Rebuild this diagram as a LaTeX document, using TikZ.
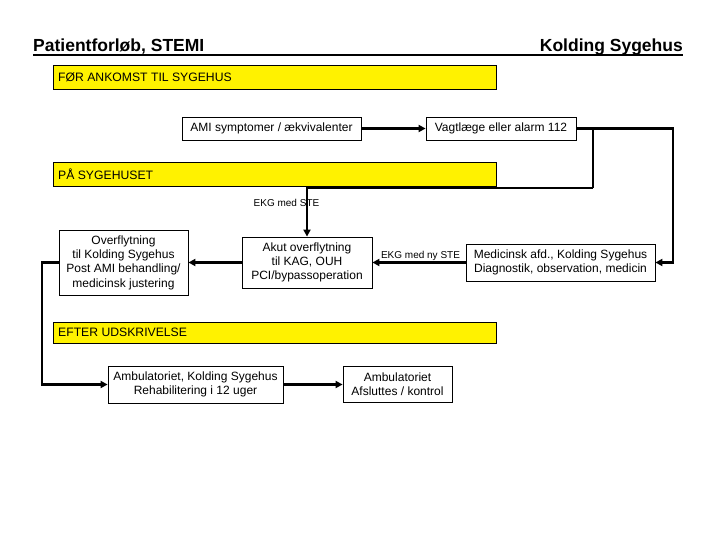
\documentclass[tikz,border=0pt]{standalone}
\usepackage{fontspec}
\setmainfont{Liberation Sans}
\usetikzlibrary{arrows.meta}
\begin{document}
\begin{tikzpicture}[x=1pt,y=-1pt,
  box/.style={draw=black,line width=0.8pt,fill=white,inner sep=0pt,align=center,
    font=\fontsize{12}{14.3}\selectfont},
  band/.style={draw=black,line width=0.8pt,fill=yellow,inner sep=0pt,anchor=north west},
  bandtext/.style={anchor=west,inner sep=0pt,font=\fontsize{12.2}{14}\selectfont},
  conn/.style={line width=2.2pt,-{Triangle[length=7pt,width=7pt]}},
  plain/.style={line width=2.2pt},
  small/.style={inner sep=0pt,font=\fontsize{10}{12}\selectfont},
  title/.style={inner sep=0pt,font=\fontsize{17.5}{20}\selectfont\bfseries}]
\useasboundingbox (0,0) rectangle (720,540);
% title
\node[title,anchor=west] (t1) at (33,47) {Patientforløb, STEMI};
\node[title,anchor=east] (t2) at (683,47) {Kolding Sygehus};
\draw[line width=1.4pt] (33,55) -- (683,55);
% bands
\node[band,minimum width=443pt,minimum height=24pt] (y1) at (53,65) {};
\node[bandtext] (y1t) at (58,77) {FØR ANKOMST TIL SYGEHUS};
\node[band,minimum width=443pt,minimum height=24pt] (y2) at (53,162) {};
\node[bandtext] (y2t) at (58,174) {PÅ SYGEHUSET};
\node[band,minimum width=443pt,minimum height=21pt] (y3) at (53,322) {};
\node[bandtext] (y3t) at (58,332.5) {EFTER UDSKRIVELSE};
% boxes
\node[box,minimum width=179pt,minimum height=23pt] (ami) at (271.5,128.5) {AMI symptomer / ækvivalenter};
\node[box,minimum width=150pt,minimum height=23pt] (vagt) at (501,128.5) {Vagtlæge eller alarm 112};
\node[box,minimum width=130pt,minimum height=51pt] (akut) at (307,262.5) {Akut overflytning\\til KAG, OUH\\PCI/bypassoperation};
\node[box,minimum width=129pt,minimum height=65pt] (over) at (123.5,262.5) {Overflytning\\til Kolding Sygehus\\Post AMI behandling/\\medicinsk justering};
\node[box,minimum width=189pt,minimum height=37pt] (med) at (560.5,262.5) {Medicinsk afd., Kolding Sygehus\\Diagnostik, observation, medicin};
\node[box,minimum width=175pt,minimum height=37pt] (amb1) at (195.5,384.5) {Ambulatoriet, Kolding Sygehus\\Rehabilitering i 12 uger};
\node[box,minimum width=109pt,minimum height=36pt] (amb2) at (397.5,384.5) {Ambulatoriet\\Afsluttes / kontrol};
% coordinates
\coordinate (cR1) at (673,128.5);
\coordinate (cB1) at (593,128.5);
\coordinate (cB2) at (593,188);
\coordinate (cL) at (42,262.5);
% connectors
\draw[conn] (ami.east) -- (vagt.west);
\draw[conn] (vagt.east) -- (cR1) |- (med.east);
\draw[plain] (cB1) -- (cB2);
\draw[conn] (cB2) -| (akut.north);
\node[small] (lab1) at (286.5,203) {EKG med STE};
\draw[conn] (med.west) -- (akut.east);
\node[small] (lab2) at (420.5,256) {EKG med ny STE};
\draw[conn] (akut.west) -- (over.east);
\draw[conn] (over.west) -- (cL) |- (amb1.west);
\draw[conn] (amb1.east) -- (amb2.west);
\end{tikzpicture}
\end{document}
